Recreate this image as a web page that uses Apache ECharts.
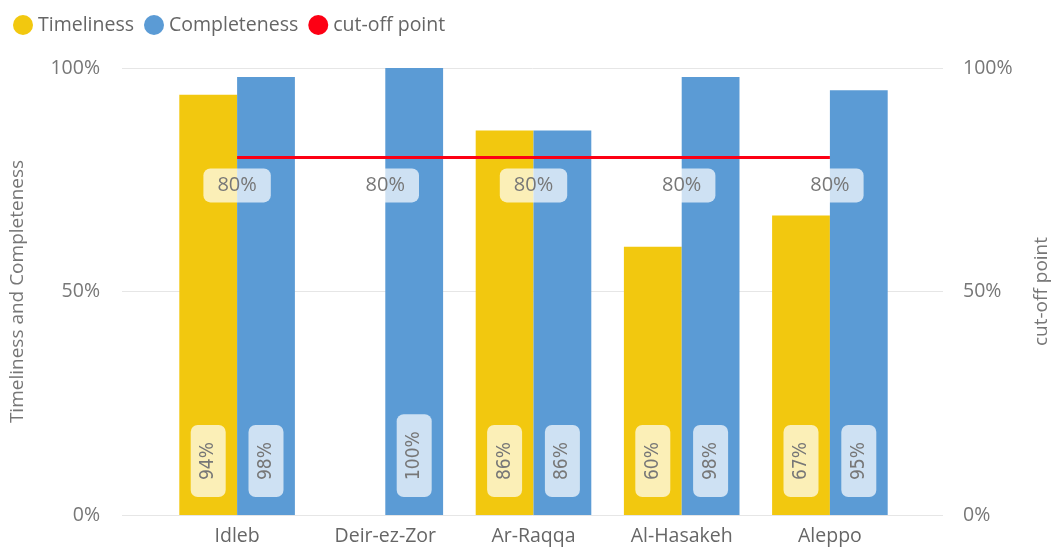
<!DOCTYPE html>
<html>
<head>
<meta charset="utf-8">
<script src="https://cdn.jsdelivr.net/npm/echarts@6/dist/echarts.min.js"></script>
<style>html,body{margin:0;padding:0;background:#fff}#c{width:1059px;height:548px}</style>
</head>
<body>
<div id="c"></div>
<script>
const categories = ['Idleb', 'Deir-ez-Zor', 'Ar-Raqqa', 'Al-Hasakeh', 'Aleppo'];
const timeliness = [94, null, 86, 60, 67];
const completeness = [98, 100, 86, 98, 95];
const cutoff = [80, 80, 80, 80, 80];
const yTicks = [0, 50, 100];

const FONT = '"Open Sans", "Noto Sans", sans-serif';
const GRAY = '#777777';
const chart = echarts.init(document.getElementById('c'));

const barLabel = {
  show: true,
  position: 'insideBottom',
  distance: 18,
  rotate: 90,
  align: 'left',
  verticalAlign: 'middle',
  formatter: p => p.value + '%',
  fontFamily: '"DejaVu Sans Condensed", "DejaVu Sans", sans-serif',
  fontSize: 19,
  color: GRAY,
  backgroundColor: 'rgba(255,255,255,0.7)',
  borderRadius: 7,
  padding: [8, 17]
};

chart.setOption({
  animation: false,
  textStyle: { fontFamily: FONT },
  legend: {
    left: 8, top: 10, icon: 'circle', itemWidth: 20, itemHeight: 20, itemGap: 10,
    textStyle: { fontSize: 19.5, color: '#666', fontFamily: FONT },
    data: ['Timeliness', 'Completeness', 'cut-off point']
  },
  grid: [
    { left: 122, right: 104, top: 68, bottom: 33 },
    { left: 163, right: 155, top: 68, bottom: 33 }
  ],
  xAxis: [
    { type: 'category', gridIndex: 0, data: categories, show: false },
    {
      type: 'category', gridIndex: 1, data: categories,
      axisLine: { show: false }, axisTick: { show: false },
      axisLabel: { fontSize: 19.5, color: '#666', margin: 11, fontFamily: FONT }
    }
  ],
  yAxis: [
    {
      type: 'value', gridIndex: 0, min: 0, max: 100, interval: 50, position: 'left',
      name: 'Timeliness and Completeness', nameLocation: 'middle', nameGap: 95,
      nameTextStyle: { fontSize: 19, color: GRAY, fontFamily: FONT },
      axisLabel: { formatter: v => yTicks.includes(v) ? v + '%' : '', fontSize: 19.5, color: GRAY, margin: 22 },
      axisLine: { show: false }, axisTick: { show: false },
      splitLine: { lineStyle: { color: '#e6e6e6', width: 1 } }
    },
    {
      type: 'value', gridIndex: 0, min: 0, max: 100, interval: 50, position: 'right',
      name: 'cut-off point', nameLocation: 'middle', nameGap: 89, nameRotate: 90,
      nameTextStyle: { fontSize: 19, color: GRAY, fontFamily: FONT },
      axisLabel: { formatter: v => yTicks.includes(v) ? v + '%' : '', fontSize: 19.5, color: GRAY, margin: 20 },
      axisLine: { show: false }, axisTick: { show: false },
      splitLine: { show: false }
    },
    { type: 'value', gridIndex: 1, min: 0, max: 100, show: false, splitLine: { show: false } }
  ],
  series: [
    {
      name: 'Timeliness', type: 'bar', xAxisIndex: 1, yAxisIndex: 2,
      data: timeliness, barGap: '0%', barCategoryGap: '22%',
      itemStyle: { color: '#F2C80F' }, label: barLabel
    },
    {
      name: 'Completeness', type: 'bar', xAxisIndex: 1, yAxisIndex: 2,
      data: completeness, barGap: '0%', barCategoryGap: '22%',
      itemStyle: { color: '#5B9BD5' }, label: barLabel
    },
    {
      name: 'cut-off point', type: 'line', xAxisIndex: 1, yAxisIndex: 2,
      data: cutoff, showSymbol: true, symbol: 'circle', symbolSize: 0,
      itemStyle: { color: '#FD0014' },
      lineStyle: { color: '#FD0014', width: 3 },
      z: 5,
      label: {
        show: true, position: 'bottom', distance: 11,
        formatter: p => p.value + '%',
        fontSize: 20, color: GRAY, fontFamily: FONT,
        backgroundColor: 'rgba(255,255,255,0.7)', borderRadius: 7,
        padding: [7, 14]
      }
    }
  ]
});
</script>
</body>
</html>
